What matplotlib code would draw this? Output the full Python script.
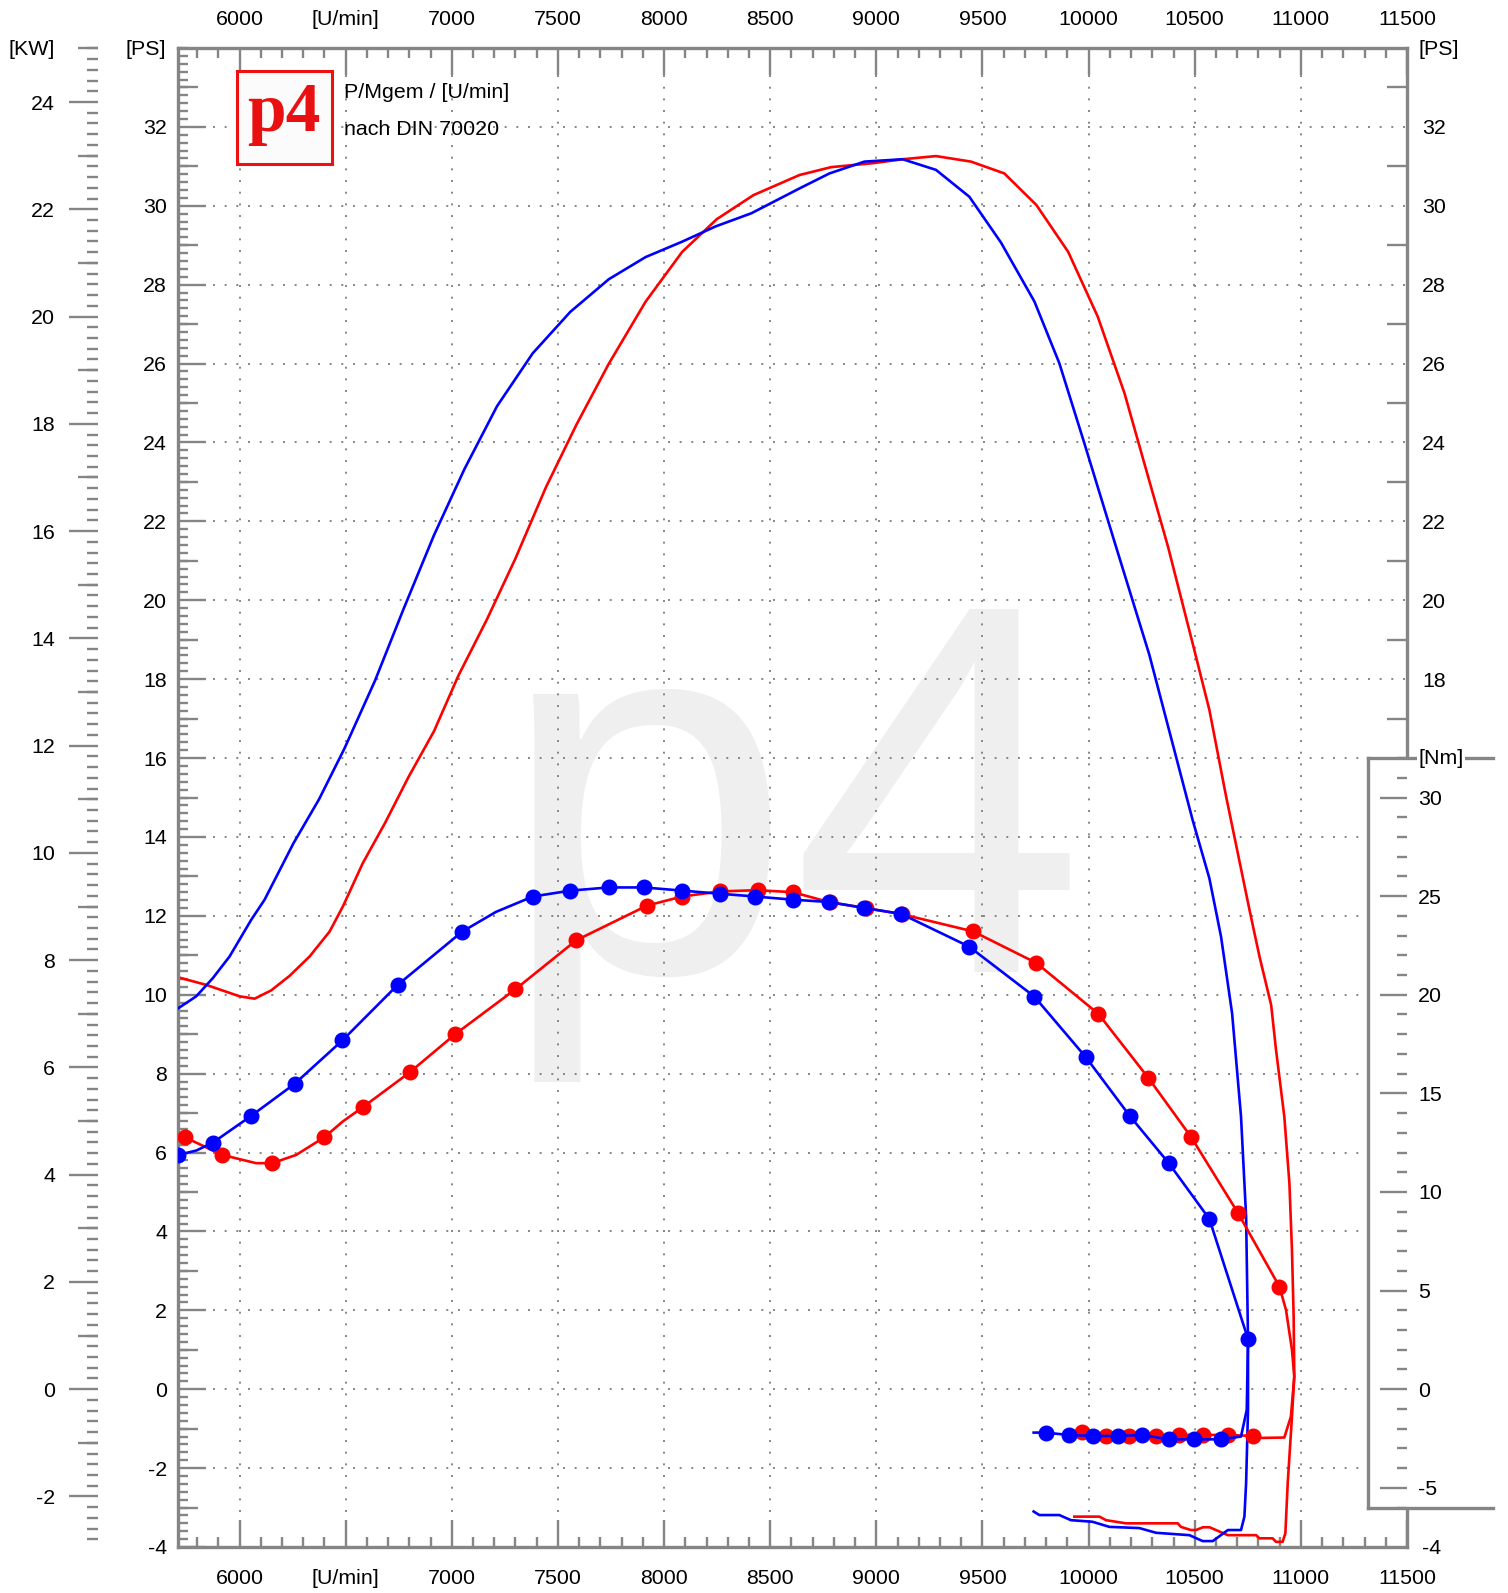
import matplotlib
matplotlib.use('Agg')
import matplotlib.pyplot as plt
from matplotlib.ticker import MultipleLocator, FixedLocator, FuncFormatter, NullFormatter
from matplotlib.patches import Rectangle
import numpy as np

plt.rcParams['font.family'] = ['Liberation Sans', 'DejaVu Sans']
plt.rcParams['font.size'] = 15.4

# ---------------- data ----------------
blue_power_rpm = [5712, 5796, 5874, 5953, 6055, 6118, 6254, 6374, 6494, 6638,
                  6772, 6916, 7059, 7213, 7381, 7558, 7740, 7913, 8085, 8244,
                  8411, 8638, 8779, 8944, 9124, 9281, 9438, 9587, 9745, 9862,
                  9980, 10129, 10286, 10490, 10569, 10624, 10676, 10691, 10718, 10742,
                  10751, 10751, 10742, 10734, 10718, 10695, 10656, 10585, 10537, 10475,
                  10318, 10239, 10098, 10018, 9917, 9862, 9768, 9741]
blue_power_ps = [9.66, 9.96, 10.42, 10.97, 11.90, 12.41, 13.84, 14.95, 16.24, 17.96,
                 19.77, 21.65, 23.32, 24.92, 26.26, 27.31, 28.14, 28.70, 29.09, 29.48,
                 29.81, 30.44, 30.82, 31.12, 31.18, 30.91, 30.23, 29.07, 27.57, 26.01,
                 23.98, 21.36, 18.62, 14.43, 12.95, 11.47, 9.53, 8.60, 6.91, 4.38,
                 1.25, -0.53, -2.38, -3.23, -3.57, -3.57, -3.57, -3.85, -3.85, -3.70,
                 -3.64, -3.52, -3.49, -3.36, -3.32, -3.19, -3.19, -3.10]

red_power_rpm = [5712, 5843, 6000, 6071, 6149, 6236, 6330, 6424, 6487, 6580,
                 6686, 6796, 6916, 7031, 7165, 7299, 7443, 7587, 7740, 7913,
                 8085, 8248, 8421, 8638, 8787, 8983, 9124, 9281, 9446, 9603,
                 9754, 9904, 10043, 10169, 10281, 10374, 10490, 10569, 10648, 10758,
                 10805, 10860, 10883, 10922, 10946, 10958, 10966, 10969, 10958, 10938,
                 10927, 10914, 10883, 10867, 10805, 10789, 10656, 10617, 10570, 10538,
                 10506, 10482, 10435, 10420, 10176, 10082, 10051, 9933]
red_power_ps = [10.44, 10.25, 9.96, 9.90, 10.11, 10.48, 10.97, 11.60, 12.24, 13.33,
                14.36, 15.52, 16.68, 18.09, 19.51, 21.05, 22.86, 24.45, 26.00, 27.57,
                28.83, 29.66, 30.27, 30.78, 30.98, 31.08, 31.18, 31.26, 31.12, 30.82,
                30.02, 28.83, 27.19, 25.25, 23.12, 21.36, 18.91, 17.22, 15.02, 12.15,
                10.97, 9.74, 8.60, 6.91, 5.22, 3.53, 1.84, 0.32, -0.70, -2.38,
                -3.65, -3.87, -3.87, -3.78, -3.78, -3.70, -3.70, -3.61, -3.50, -3.50,
                -3.57, -3.57, -3.49, -3.40, -3.40, -3.32, -3.23, -3.23]

blue_torque_rpm = [5712, 5796, 5874, 6055, 6259, 6484, 6745, 7049, 7208, 7382,
                   7559, 7740, 7905, 8084, 8264, 8429, 8606, 8779, 8941, 9117,
                   9437, 9744, 9988, 10195, 10377, 10569, 10751, 10745, 10718, 10624,
                   10498, 10377, 10252, 10137, 10020, 9906, 9797, 9741]
blue_torque_nm = [11.88, 12.10, 12.50, 13.86, 15.48, 17.68, 20.50, 23.20, 24.20, 24.98,
                  25.28, 25.44, 25.44, 25.28, 25.12, 24.98, 24.82, 24.70, 24.40, 24.10,
                  22.44, 19.91, 16.82, 13.84, 11.47, 8.63, 2.55, -1.05, -2.40, -2.54,
                  -2.54, -2.54, -2.32, -2.37, -2.37, -2.32, -2.20, -2.20]
blue_plain_idx = [1, 8, 27, 28, 37]

red_torque_rpm = [5741, 5918, 6078, 6154, 6267, 6400, 6487, 6581, 6801, 7016,
                  7300, 7586, 7920, 8085, 8264, 8441, 8606, 8784, 8949, 9121,
                  9456, 9754, 10046, 10281, 10482, 10703, 10899, 10930, 10958, 10969,
                  10953, 10922, 10812, 10776, 10655, 10541, 10428, 10318, 10192, 10081,
                  9969]
red_torque_nm = [12.78, 11.88, 11.46, 11.46, 11.88, 12.78, 13.58, 14.30, 16.06, 18.00,
                 20.28, 22.76, 24.52, 24.98, 25.24, 25.30, 25.20, 24.68, 24.40, 24.08,
                 23.21, 21.61, 19.03, 15.79, 12.80, 8.95, 5.20, 4.02, 2.00, 0.64,
                 -1.39, -2.45, -2.47, -2.37, -2.32, -2.32, -2.32, -2.37, -2.37, -2.37,
                 -2.15]
red_plain_idx = [2, 4, 6, 27, 28, 29, 30, 31, 32]

x_ticks = [6000, 6500, 7000, 7500, 8000, 8500, 9000, 9500, 10000, 10500, 11000, 11500]
x_labels = ['6000', '[U/min]', '7000', '7500', '8000', '8500', '9000', '9500',
            '10000', '10500', '11000', '11500']
ps_ticks = [-4, -2, 0, 2, 4, 6, 8, 10, 12, 14, 16, 18, 20, 22, 24, 26, 28, 30, 32]
ps_right_ticks = [-4, 18, 20, 22, 24, 26, 28, 30, 32]
kw_ticks = [-2, 0, 2, 4, 6, 8, 10, 12, 14, 16, 18, 20, 22, 24]
nm_ticks = [-5, 0, 5, 10, 15, 20, 25, 30]
PS_TO_KW = 0.73549875

# ---------------- figure ----------------
W, H = 1508, 1593
fig = plt.figure(figsize=(W / 100, H / 100), dpi=100)


def fx(px):
    return px / W


def fy(py):
    return 1 - py / H


L, R, T, B = 178, 1407, 48, 1547
GRAY = '#858585'
BLUE = '#0000ff'
RED = '#ff0000'
TW = 1.7
LW = 1.9
MS = 10.5

ax = fig.add_axes([fx(L), fy(B), (R - L) / W, (B - T) / H])
ax.set_zorder(1)
ax.set_xlim(5710, 11500)
ax.set_ylim(-4, 34)
for s in ax.spines.values():
    s.set_color(GRAY)
    s.set_linewidth(2.4)

ax.xaxis.set_major_locator(FixedLocator(x_ticks))
ax.xaxis.set_major_formatter(FuncFormatter(lambda v, p: x_labels[x_ticks.index(int(round(v)))]
                                           if int(round(v)) in x_ticks else ''))
ax.xaxis.set_minor_locator(MultipleLocator(100))
ax.yaxis.set_major_locator(FixedLocator(ps_ticks))
ax.yaxis.set_major_formatter(FuncFormatter(lambda v, p: f'{v:.0f}'))
ax.yaxis.set_minor_locator(MultipleLocator(0.2))

ax.tick_params(axis='x', which='major', direction='in', length=19.4, width=TW, color=GRAY,
               top=True, bottom=True, labeltop=False, labelbottom=True, pad=16)
ax.tick_params(axis='x', which='minor', direction='in', length=7.2, width=TW, color=GRAY,
               top=True, bottom=True)
ax.tick_params(axis='y', which='major', direction='in', length=20, width=TW, color=GRAY,
               left=True, right=True, labelleft=True, labelright=False, pad=8)
ax.tick_params(axis='y', which='minor', direction='in', length=7.2, width=TW, color=GRAY,
               left=True, right=True)

ax.grid(True, which='major', color=GRAY, linestyle=(0, (1, 5)), linewidth=1.4)

ident = (lambda v: v, lambda v: v)

# top labels
secx = ax.secondary_xaxis('top', functions=ident)
secx.xaxis.set_major_locator(FixedLocator(x_ticks))
secx.xaxis.set_major_formatter(ax.xaxis.get_major_formatter())
secx.tick_params(length=0, pad=13.5)
for s in secx.spines.values():
    s.set_color('none')

# right PS labels
secr = ax.secondary_yaxis('right', functions=ident)
secr.yaxis.set_major_locator(FixedLocator(ps_right_ticks))
secr.yaxis.set_major_formatter(FuncFormatter(lambda v, p: f'{v:.0f}'))
secr.tick_params(length=0, pad=11)
for s in secr.spines.values():
    s.set_color('none')

# medium (odd) PS ticks, left and right
odd_ps = list(range(-3, 34, 2))
for loc in ('left', 'right'):
    sm = ax.secondary_yaxis(loc, functions=ident)
    sm.yaxis.set_major_locator(FixedLocator(odd_ps))
    sm.yaxis.set_major_formatter(NullFormatter())
    sm.tick_params(direction='in', length=14.4, width=TW, color=GRAY)
    for s in sm.spines.values():
        s.set_color('none')

# KW axis
kw_loc = (98 - L) / (R - L)
kwf = (lambda p: p * PS_TO_KW, lambda k: k / PS_TO_KW)
seck = ax.secondary_yaxis(kw_loc, functions=kwf)
seck.yaxis.set_major_locator(FixedLocator(kw_ticks))
seck.yaxis.set_major_formatter(FuncFormatter(lambda v, p: f'{v:.0f}'))
seck.yaxis.set_minor_locator(MultipleLocator(0.2))
seck.tick_params(which='major', direction='out', length=21, width=TW, color=GRAY, pad=10)
seck.tick_params(which='minor', direction='out', length=8, width=TW, color=GRAY)
for s in seck.spines.values():
    s.set_color('none')
seck2 = ax.secondary_yaxis(kw_loc, functions=kwf)
seck2.yaxis.set_major_locator(FixedLocator(list(range(-1, 26, 2))))
seck2.yaxis.set_major_formatter(NullFormatter())
seck2.tick_params(direction='out', length=14.4, width=TW, color=GRAY)
for s in seck2.spines.values():
    s.set_color('none')

# watermark
ax.text(fx(498), fy(972), 'p4', transform=fig.transFigure, fontsize=380, color='#efefef',
        ha='left', va='baseline', zorder=0.5, family='Liberation Sans')

# power curves
ax.plot(red_power_rpm, red_power_ps, color=RED, lw=LW, zorder=2)
ax.plot(blue_power_rpm, blue_power_ps, color=BLUE, lw=LW, zorder=3)

# torque curves (Nm scale)
axt = ax.twinx()
axt.set_zorder(2)
axt.set_ylim(-8, 68)
axt.axis('off')
red_marks = [i for i in range(len(red_torque_rpm)) if i not in red_plain_idx]
blue_marks = [i for i in range(len(blue_torque_rpm)) if i not in blue_plain_idx]
axt.plot(red_torque_rpm, red_torque_nm, color=RED, lw=LW, marker='o', ms=MS,
         markevery=red_marks)
axt.plot(blue_torque_rpm, blue_torque_nm, color=BLUE, lw=LW, marker='o', ms=MS,
         markevery=blue_marks)

# logo
ax.add_patch(Rectangle((fx(237), fy(164)), fx(332) - fx(237), fy(71) - fy(164),
                       transform=fig.transFigure, facecolor='#fbfbfb', edgecolor='#ee1111',
                       lw=2.2, zorder=4, clip_on=False))
ax.text(fx(284), fy(131), 'p4', transform=fig.transFigure, ha='center', va='baseline',
        fontsize=50, fontweight='bold', family='Liberation Serif', color='#e81010', zorder=5)
ax.text(fx(344), fy(98), 'P/Mgem / [U/min]', transform=fig.transFigure, ha='left',
        va='baseline', zorder=5)
ax.text(fx(344), fy(135), 'nach DIN 70020', transform=fig.transFigure, ha='left',
        va='baseline', zorder=5)

# axis header labels
fig.text(fx(55), fy(55), '[KW]', ha='right', va='baseline')
fig.text(fx(166), fy(55), '[PS]', ha='right', va='baseline')
fig.text(fx(1418), fy(55), '[PS]', ha='left', va='baseline')

# Nm box
ax_h = (B - T) / H


def ps_fig(v):
    return fy(B) + (v + 4) / 38 * ax_h


box_b, box_t = ps_fig(-3), ps_fig(16)
axn = fig.add_axes([fx(1368), box_b, fx(1493) - fx(1368), box_t - box_b])
axn.set_zorder(3)
axn.set_facecolor('white')
axn.set_ylim(-6, 32)
axn.set_xticks([])
for k in ('left', 'top', 'bottom'):
    axn.spines[k].set_color(GRAY)
    axn.spines[k].set_linewidth(2.4)
axn.spines['right'].set_position(('axes', (1407 - 1368) / (1493 - 1368)))
axn.spines['right'].set_color('none')
axn.yaxis.set_ticks_position('right')
axn.yaxis.set_major_locator(FixedLocator(nm_ticks))
axn.yaxis.set_major_formatter(FuncFormatter(lambda v, p: f'{v:.0f}'))
axn.yaxis.set_minor_locator(MultipleLocator(1))
axn.tick_params(axis='y', which='major', direction='in', length=19.4, width=TW, color=GRAY,
                pad=8, labelright=True, labelleft=False)
axn.tick_params(axis='y', which='minor', direction='in', length=7.2, width=TW, color=GRAY)
axn.text(fx(1418), box_t, '[Nm]', transform=fig.transFigure, ha='left', va='center',
         zorder=5, clip_on=False,
         bbox=dict(facecolor='white', edgecolor='none', pad=1.0))

fig.savefig('out.png', dpi=100)
